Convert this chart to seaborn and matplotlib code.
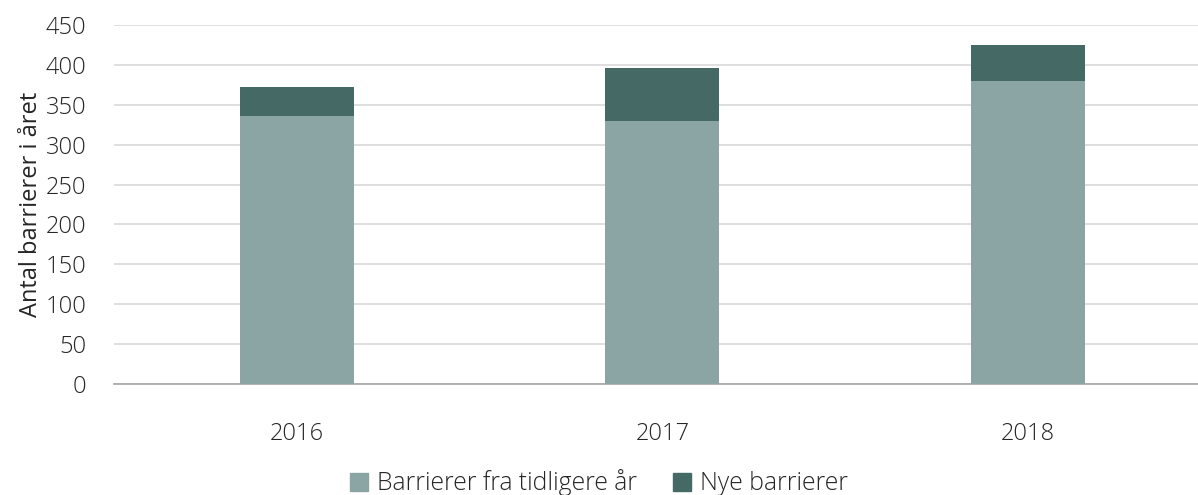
import matplotlib
matplotlib.use("Agg")
import matplotlib.pyplot as plt
import seaborn as sns
import pandas as pd
from matplotlib.patches import Patch

years = ["2016", "2017", "2018"]
previous = [336, 330, 380]
new = [36, 66, 45]
labels = ["Barrierer fra tidligere år", "Nye barrierer"]

light = "#8BA5A4"
dark = "#456A66"
text_col = "#262626"

sns.set_theme(style="white")
plt.rcParams["font.family"] = ["Open Sans", "DejaVu Sans"]
plt.rcParams["font.weight"] = "light"
fs = 17

df = pd.DataFrame({"year": years, "previous": previous, "new": new})
df["total"] = df["previous"] + df["new"]

fig = plt.figure(figsize=(11.98, 4.95), dpi=100)
ax = fig.add_axes([114 / 1198, 111 / 495, 1 - 114 / 1198, 359 / 495])

sns.barplot(data=df, x="year", y="total", color=dark, width=0.312,
            saturation=1, linewidth=0, ax=ax, zorder=3)
sns.barplot(data=df, x="year", y="previous", color=light, width=0.312,
            saturation=1, linewidth=0, ax=ax, zorder=3)

ax.set_xlim(-0.5, 2.465)
ax.set_ylim(0, 450)
ax.set_yticks(range(0, 451, 50))
ax.yaxis.grid(True, color="#D9D9D9", linewidth=1.2, zorder=0)
for s in ["top", "right", "left"]:
    ax.spines[s].set_visible(False)
ax.spines["bottom"].set_color("#A6A6A6")
ax.spines["bottom"].set_linewidth(1.2)
ax.tick_params(axis="both", length=0, labelsize=fs, colors=text_col)
ax.tick_params(axis="x", pad=27)
ax.tick_params(axis="y", pad=20)
ax.set_xlabel("")
ax.set_ylabel("Antal barrierer i året", fontsize=fs, color=text_col, labelpad=2)

handles = [Patch(color=light), Patch(color=dark)]
fig.legend(handles, labels, loc="center", bbox_to_anchor=(0.5, 12 / 495),
           ncol=2, frameon=False, fontsize=17.8, handlelength=0.75,
           handleheight=0.75, handletextpad=0.35, columnspacing=1.45,
           labelcolor=text_col)

fig.savefig("out.png", dpi=100)
